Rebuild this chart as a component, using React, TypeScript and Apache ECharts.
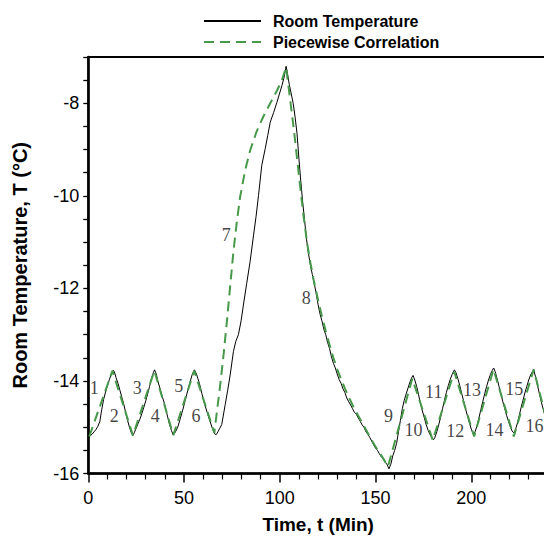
import React, { useEffect, useRef } from "react";
import * as echarts from "echarts";

// Measured room temperature [time (min), temperature (°C)]
const roomCycles1: number[][] = [
  [0.5, -15.2], [1, -15.18], [2, -15.15], [3, -15.1], [4, -15.05], [5, -14.98], [6, -14.88],
  [7, -14.62], [8, -14.4], [9, -14.24], [10, -14.1], [11, -13.97], [12, -13.85], [13, -13.77],
  [13.6, -13.8], [14.5, -13.93], [15.5, -14.05], [16.5, -14.2], [17.5, -14.35], [18.5, -14.5],
  [19.5, -14.68], [20.5, -14.85], [21.5, -15.0], [22.5, -15.12], [23.2, -15.18], [24, -15.12],
  [25, -15.02], [26, -14.92], [27, -14.82], [28, -14.7], [29, -14.57], [30, -14.43], [31, -14.28],
  [32, -14.12], [33, -13.95], [34, -13.82], [34.6, -13.76], [35.5, -13.85], [36.3, -14.0],
  [37.5, -14.17], [38.5, -14.32], [39.7, -14.48], [41, -14.7], [42.3, -14.92], [43.4, -15.07],
  [44.4, -15.17], [45.5, -15.1], [46.7, -15.0], [48, -14.82], [49.3, -14.63], [50.6, -14.42],
  [52, -14.2], [53.1, -14.03], [54.2, -13.87], [55.4, -13.76], [56.5, -13.85], [58, -14.05],
  [59.3, -14.27], [60.6, -14.48], [62, -14.67], [63.3, -14.84], [64.6, -15.0], [65.9, -15.14],
  [66.8, -15.16], [67.7, -15.1], [68.7, -15.02], [69.7, -14.94],
];

const roomHeating: number[][] = [
  [71.5, -14.51], [72.8, -14.2], [74.1, -13.87], [75.8, -13.36], [77, -13.15], [78.4, -13.0],
  [79.8, -12.7], [81, -12.36], [82.7, -11.9], [84.5, -11.42], [86.3, -10.85], [87.6, -10.45],
  [88.9, -9.99], [90.6, -9.34], [92.4, -8.98], [93.7, -8.7], [95, -8.41], [96.8, -8.2],
  [98.5, -7.98], [99.8, -7.8], [101.1, -7.62], [102.2, -7.45], [103.3, -7.2],
];

const roomCooling: number[][] = [
  [104, -7.35], [105, -7.6], [106, -7.8], [107, -8.0], [108, -8.3], [109, -8.65], [110, -9.2],
  [111, -9.7], [112, -10.15], [113, -10.55], [114, -10.95], [115, -11.25], [116, -11.5],
  [117, -11.7], [118, -11.9], [119, -12.1], [120, -12.35], [121, -12.55], [122, -12.7],
  [123, -12.88], [124, -13.0], [125, -13.17], [126, -13.3], [127, -13.48], [128, -13.62],
  [129, -13.72], [130, -13.85], [131, -13.97], [132, -14.05], [133, -14.17], [134, -14.25],
  [135, -14.37], [136, -14.45], [137, -14.52], [138, -14.6], [139, -14.68], [140, -14.72],
  [141, -14.8], [142, -14.87], [143, -14.95], [144, -15.0], [145, -15.1], [146, -15.15],
  [147, -15.22], [148, -15.3], [149, -15.38], [150, -15.45], [151, -15.5], [152, -15.57],
  [153, -15.64], [154, -15.68], [155, -15.76], [156, -15.8], [157, -15.9],
];

const roomCycles2: number[][] = [
  [158, -15.8], [159, -15.62], [160, -15.5], [161, -15.35], [162, -15.1], [163, -14.85],
  [164, -14.6], [165, -14.42], [166, -14.28], [167, -14.15], [168, -14.02], [169, -13.92],
  [169.6, -13.88], [170.5, -13.98], [171.5, -14.12], [172.5, -14.3], [173.4, -14.48],
  [174.5, -14.65], [175.5, -14.8], [176.5, -14.95], [177.5, -15.07], [178.5, -15.16],
  [179.5, -15.23], [180.3, -15.27], [181, -15.22], [182, -15.1], [183, -14.95], [184, -14.78],
  [185, -14.6], [186, -14.42], [187, -14.25], [188, -14.1], [189, -13.97], [190, -13.86],
  [191.2, -13.76], [192, -13.82], [193, -13.95], [194, -14.1], [195, -14.27], [196, -14.43],
  [197, -14.6], [198, -14.75], [199, -14.9], [200, -15.04], [201.3, -15.16], [202, -15.1],
  [203, -14.97], [204, -14.8], [205, -14.62], [206, -14.45], [207, -14.28], [208, -14.12],
  [209, -13.98], [210, -13.86], [211, -13.77], [211.7, -13.72], [212.5, -13.8], [213.5, -13.95],
  [214.5, -14.12], [215.5, -14.28], [216.5, -14.45], [217.5, -14.6], [218.5, -14.75],
  [219.5, -14.88], [220.5, -15.0], [221.3, -15.08], [222.2, -15.12], [223, -15.06],
  [224, -14.93], [225, -14.76], [226, -14.58], [227, -14.42], [228, -14.26], [229, -14.12],
  [230, -13.98], [231, -13.87], [232, -13.8], [232.6, -13.76], [233.5, -13.9], [234.5, -14.08],
  [235.5, -14.26], [236.5, -14.44], [237.5, -14.6], [238.5, -14.75], [239.5, -14.88], [240, -14.95],
];

// Piecewise correlation [time (min), temperature (°C)]
const fitCycles1: number[][] = [
  [0.5, -15.2], [12.6, -13.78], [23.3, -15.18], [34.5, -13.78], [44.4, -15.17], [55.3, -13.78],
  [65.8, -15.12],
];

const fitHeating: number[][] = [
  [67, -14.72], [68.8, -14.12], [70.6, -13.45], [72.3, -12.75], [74.1, -11.95], [75.8, -11.2],
  [77.6, -10.55], [79.3, -10.02], [81.9, -9.45], [84.5, -9.02], [88, -8.6], [91.5, -8.28],
  [95, -8.0], [98.5, -7.73], [101.1, -7.5], [103.3, -7.22],
];

const fitCooling: number[][] = [
  [104.5, -7.62], [105.5, -7.95], [106.7, -8.35], [108, -8.8], [109.3, -9.3], [110.7, -9.82],
  [112.3, -10.4], [114.2, -11.0], [116, -11.45], [118, -11.88], [120, -12.25], [122, -12.6],
  [124, -12.92], [126, -13.22], [128, -13.5], [130, -13.75], [132, -13.96], [134, -14.16],
  [136, -14.35], [138, -14.52], [140, -14.68], [142, -14.83], [144, -14.98], [146, -15.13],
  [148, -15.28], [150, -15.42], [152, -15.55], [154, -15.67], [156.5, -15.85],
];

const fitCycles2: number[][] = [
  [169.2, -13.95], [179.9, -15.28], [191.1, -13.8], [201.5, -15.2], [211.6, -13.75],
  [222.2, -15.2], [232.6, -13.75], [240, -14.95],
];

// Segment numbers of the piecewise correlation
const segmentNames = ["1", "2", "3", "4", "5", "6", "7", "8", "9", "10", "11", "12", "13", "14", "15", "16"];
const segmentTime = [3.1, 13.6, 25.5, 35.0, 47.3, 56.3, 72.0, 113.8, 156.8, 169.9, 180.4, 191.7, 200.4, 212.1, 222.5, 233.0];
const segmentTemp = [-14.16, -14.76, -14.16, -14.76, -14.12, -14.76, -10.85, -12.21, -14.76, -15.06, -14.23, -15.08, -14.19, -15.06, -14.18, -14.98];

const seriesNames = ["Room Temperature", "Piecewise Correlation"];
const xLabelValues = [0, 50, 100, 150, 200];
const yLabelValues = [-16, -14, -12, -10, -8];

const SANS = "'Liberation Sans', Arial, Helvetica, sans-serif";
const SERIF = "'Liberation Serif', 'Times New Roman', serif";
const GREEN = "#47994a";

export default function App() {
  const ref = useRef<HTMLDivElement>(null);

  useEffect(() => {
    document.body.style.margin = "0";
    if (!ref.current) return;
    const chart = echarts.init(ref.current, undefined, { renderer: "svg" });

    const roomTemp = [...roomCycles1, ...roomHeating, ...roomCooling, ...roomCycles2];
    const fitTemp = [...fitCycles1, ...fitHeating, ...fitCooling, ...fitCycles2];
    const labels = segmentNames.map((n, i) => [segmentTime[i], segmentTemp[i], n]);

    chart.setOption({
      animation: false,
      backgroundColor: "#fff",
      grid: {
        left: 88.3,
        top: 57,
        width: 478.7,
        height: 416.5,
        show: true,
        borderColor: "#000",
        borderWidth: 2,
        containLabel: false,
        outerBoundsMode: "none",
      },
      legend: {
        data: seriesNames,
        orient: "vertical",
        left: 198,
        top: 8,
        itemWidth: 57,
        itemHeight: 14,
        itemGap: 5,
        itemStyle: { opacity: 0 },
        textStyle: {
          fontFamily: SANS,
          fontWeight: "bold",
          fontSize: 16,
          color: "#000",
          padding: [0, 0, 0, 7],
        },
        selectedMode: false,
      },
      xAxis: {
        type: "value",
        min: 0,
        max: 250,
        interval: 50,
        name: "Time, t (Min)",
        nameLocation: "middle",
        nameGap: 41,
        nameTextStyle: {
          fontFamily: SANS,
          fontWeight: "bold",
          fontSize: 19,
          color: "#000",
          padding: [0, 19, 0, 0],
        },
        axisLine: { show: true, onZero: false, lineStyle: { color: "#000", width: 2.5 } },
        axisTick: { show: true, inside: false, length: 9, lineStyle: { color: "#000", width: 1.5 } },
        minorTick: { show: true, splitNumber: 5, length: 6, lineStyle: { color: "#000", width: 1.2 } },
        splitLine: { show: false },
        minorSplitLine: { show: false },
        axisLabel: {
          fontFamily: SANS,
          fontSize: 18,
          color: "#000",
          margin: 15,
          formatter: (v: number) => (xLabelValues.includes(v) ? String(v) : ""),
        },
      },
      yAxis: {
        type: "value",
        min: -16,
        max: -7,
        interval: 0.5,
        name: "Room Temperature, T (°C)",
        nameLocation: "middle",
        nameGap: 58,
        nameRotate: 90,
        nameTextStyle: { fontFamily: SANS, fontWeight: "bold", fontSize: 20, color: "#000" },
        axisLine: { show: true, onZero: false, lineStyle: { color: "#000", width: 2.5 } },
        axisTick: { show: true, inside: false, length: 5, lineStyle: { color: "#000", width: 1.3 } },
        splitLine: { show: false },
        axisLabel: {
          interval: 0,
          fontFamily: SANS,
          fontSize: 18,
          color: "#000",
          margin: 9,
          formatter: (v: number) => (yLabelValues.includes(v) ? String(v) : ""),
        },
      },
      series: [
        {
          name: seriesNames[0],
          type: "line",
          data: roomTemp,
          symbol: "none",
          showSymbol: false,
          lineStyle: { color: "#000", width: 1 },
          itemStyle: { color: "#000" },
          z: 2,
        },
        {
          name: seriesNames[1],
          type: "line",
          data: fitTemp,
          symbol: "none",
          showSymbol: false,
          lineStyle: { color: GREEN, width: 2, type: [10, 6] },
          itemStyle: { color: GREEN },
          z: 3,
        },
        {
          name: "segments",
          type: "scatter",
          data: labels,
          symbolSize: 0,
          silent: true,
          z: 4,
          label: {
            show: true,
            position: "inside",
            formatter: (p: any) => p.value[2],
            fontFamily: SERIF,
            fontSize: 18,
            color: "#111",
          },
        },
      ],
    });

    return () => chart.dispose();
  }, []);

  return <div ref={ref} style={{ width: 544, height: 541 }} />;
}
